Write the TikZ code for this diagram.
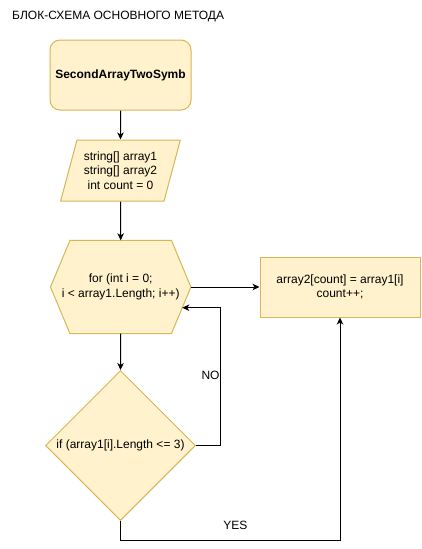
\documentclass[tikz,border=0pt]{standalone}
\usepackage{fontspec}
\setmainfont{Liberation Sans}
\usetikzlibrary{positioning, arrows.meta, shapes.geometric, backgrounds}

\definecolor{yellowfill}{HTML}{FFF2CC}
\definecolor{yellowline}{HTML}{D6B656}

\begin{document}
\begin{tikzpicture}[
    x=1pt, y=-1pt,
    font=\fontsize{12}{14.5}\selectfont,
    block/.style={draw=yellowline, fill=yellowfill, line width=1pt, align=center, inner sep=0pt},
    arrow/.style={-{Stealth[length=7pt, width=6.5pt, inset=2pt]}, line width=1pt},
    label/.style={inner sep=0pt, anchor=base}
]
    \useasboundingbox (0, 0) rectangle (421, 549);

    % Title
    \node[inner sep=0pt, anchor=base west] (title) at (12, 19) {БЛОК-СХЕМА ОСНОВНОГО МЕТОДА};

    % Start
    \node[block, rounded corners=10pt, minimum width=141, minimum height=70, font=\fontsize{12}{14.5}\selectfont\bfseries] (start) at (120.5, 75) {SecondArrayTwoSymb};

    % Input
    \node[block, trapezium, trapezium left angle=70, trapezium right angle=110, trapezium stretches=true,
        minimum width=120, minimum height=61] (input) at (120.5, 170.5) {string[] array1\\string[] array2\\int count = 0};

    % Loop (hexagon)
    \node[align=center, inner sep=0pt, minimum width=140, minimum height=93] (loop) at (120.7, 287) {for (int i = 0;\\i < array1.Length; i++)};
    \begin{scope}[on background layer]
        \draw[block] (loop.west) -- ([xshift=19.5]loop.north west) -- ([xshift=-19.5]loop.north east)
            -- (loop.east) -- ([xshift=-19.5]loop.south east) -- ([xshift=19.5]loop.south west) -- cycle;
    \end{scope}

    % Body
    \node[block, minimum width=160, minimum height=60] (body) at (340, 287) {array2[count] = array1[i]\\count++;};

    % Condition
    \node[block, diamond, minimum width=150, minimum height=150] (cond) at (120.5, 445.5) {if (array1[i].Length <= 3)};

    % Connectors
    \coordinate (loopin) at (182.3, 307.7);
    \coordinate (nocorner) at (220.3, 307.7);
    \coordinate (yescorner) at (340, 540.3);

    \draw[arrow] (start) -- (input);
    \draw[arrow] (input) -- (loop.north);
    \draw[arrow] (loop.east) -- (body.west);
    \draw[arrow] (loop.south) -- (cond.north);
    \draw[arrow] (cond.east) -| (nocorner) -- (loopin);
    \draw[arrow] (cond.south) |- (yescorner) -- (body.south);

    % Labels
    \node[label] (no) at (210.5, 379) {NO};
    \node[label] (yes) at (235.3, 529) {YES};

\end{tikzpicture}
\end{document}
